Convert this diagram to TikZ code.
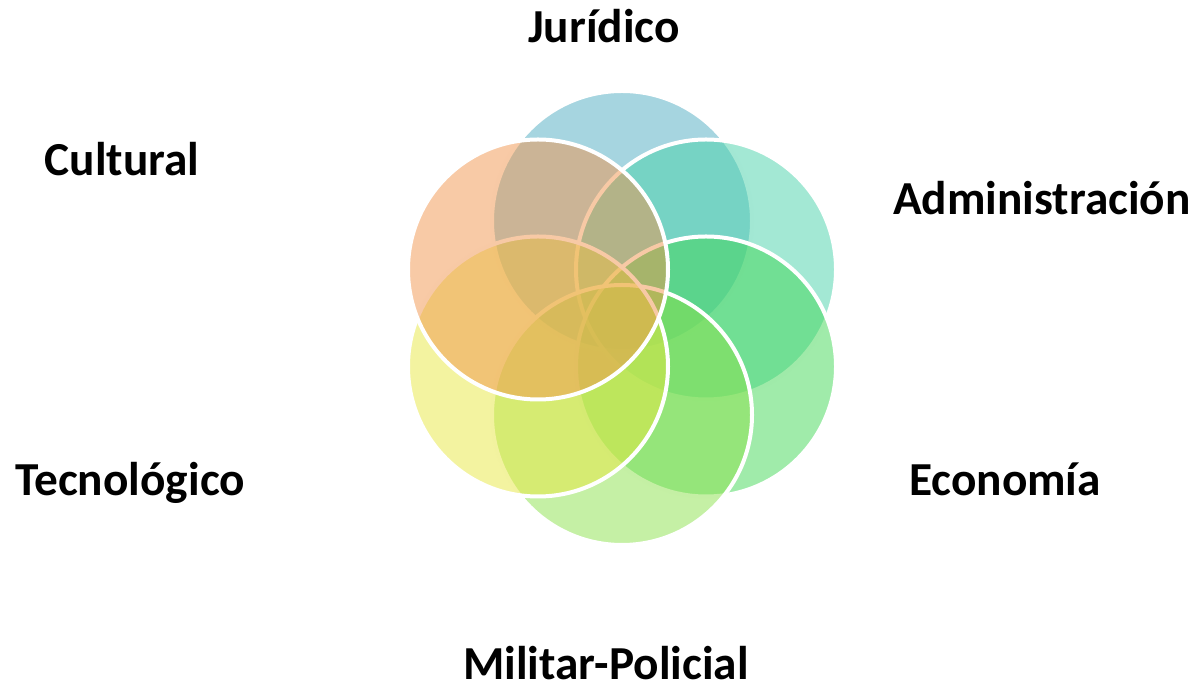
\documentclass[tikz,border=0pt]{standalone}
\usepackage{fontspec}
\setmainfont{Carlito}
\usetikzlibrary{calc}
\definecolor{cblue}{RGB}{77,171,193}
\definecolor{cteal}{RGB}{71,209,169}
\definecolor{cgreen}{RGB}{65,215,85}
\definecolor{clgreen}{RGB}{139,225,75}
\definecolor{cyellow}{RGB}{231,231,65}
\definecolor{corange}{RGB}{241,149,77}
\begin{document}
\begin{tikzpicture}[x=0.75pt,y=0.75pt,
  ring/.style={circle, inner sep=0pt, minimum size=195pt, fill=#1, fill opacity=0.5, draw=white, draw opacity=1, line width=3pt},
  lbl/.style={font=\fontsize{35.5}{42}\selectfont\bfseries, text=black, inner sep=0pt, anchor=base}]
\useasboundingbox (0,0) rectangle (1196,685);
\coordinate (c) at (622,367);
\node[ring=cblue]   (jur) at ($(c)+(90:97)$) {};
\node[ring=cteal]   (adm) at ($(c)+(30:97)$) {};
\node[ring=cgreen]  (eco) at ($(c)+(-30:97)$) {};
\node[ring=clgreen] (mil) at ($(c)+(-90:97)$) {};
\node[ring=cyellow] (tec) at ($(c)+(-150:97)$) {};
\node[ring=corange] (cul) at ($(c)+(150:97)$) {};
\node[lbl] (ljur) at (604,642) {Jurídico};
\node[lbl] (lcul) at (122,509) {Cultural};
\node[lbl] (ladm) at (1042,470) {Administración};
\node[lbl] (ltec) at (130,189) {Tecnológico};
\node[lbl] (leco) at (1005,189) {Economía};
\node[lbl] (lmil) at (606,5) {Militar-Policial};
\end{tikzpicture}
\end{document}
